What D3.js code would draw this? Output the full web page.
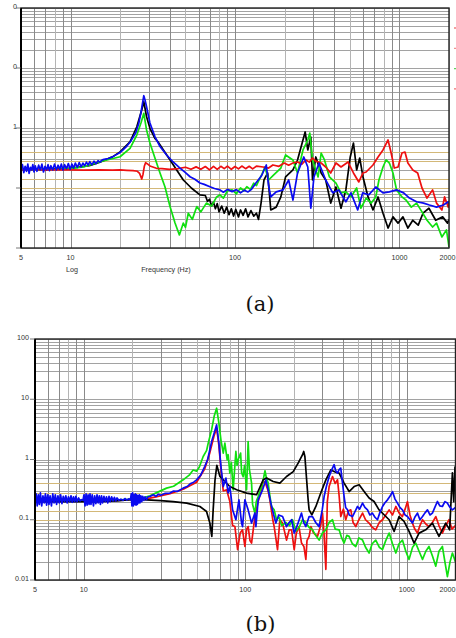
<!DOCTYPE html>
<html><head><meta charset="utf-8">
<script src="https://cdn.jsdelivr.net/npm/d3@7/dist/d3.min.js"></script>
<style>body{margin:0;background:#fff}svg{display:block}</style>
</head><body><svg id="c" width="456" height="638"></svg>
<script>
// ---------- tick labels / reference levels ----------
const xTickValues = [5, 10, 100, 1000, 2000];
const xTickLabels = ["5", "10", "100", "1000", "2000"];
const yTickValues = [100, 10, 1, 0.1, 0.01];
const yTickLabelsA = ["0", "0", "1", "", ""];        // labels cut off in the source image
const yTickLabelsB = ["100", "10", "1", "0.1", "0.01"];
const toleranceLevels = [0.4, 0.283, 0.141, 0.1];    // +-3 dB / +-6 dB around 0.2
const axisTextA = ["Log", "Frequency (Hz)"];
const captions = ["(a)", "(b)"];

// ---------- panel (a) series: [frequency Hz, magnitude] ----------
const blueA = [[5,0.21],[5.1,0.245],[5.2,0.18],[5.3,0.23],[5.4,0.19],[5.5,0.25],[5.6,0.175],[5.7,0.22],[5.8,0.2],[5.9,0.245],[6,0.185],[6.1,0.235],[6.25,0.19],[6.4,0.24],[6.55,0.2],[6.7,0.25],[6.85,0.185],[7,0.23],[7.15,0.2],[7.3,0.245],[7.45,0.195],[7.6,0.235],[7.8,0.2],[8,0.25],[8.2,0.2],[8.4,0.24],[8.6,0.205],[8.8,0.25],[9,0.2],[9.2,0.245],[9.45,0.21],[9.7,0.255],[9.95,0.205],[10.2,0.25],[10.45,0.215],[10.7,0.26],[11,0.22],[11.3,0.265],[11.6,0.225],[11.9,0.26],[12.2,0.235],[12.5,0.27],[12.8,0.24],[13.1,0.275],[13.5,0.245],[13.9,0.28],[14.3,0.255],[14.7,0.285],[15.1,0.27],[15.6,0.295],[16,0.3],[17,0.31],[18,0.33],[19,0.36],[20,0.39],[21,0.44],[22,0.5],[23,0.58],[24,0.7],[25,0.85],[26,1.2],[26.8,1.8],[27.4,2.6],[27.9,3.45],[28.4,2.9],[29,2.26],[30.4,1.21],[32.6,0.72],[35,0.49],[38.4,0.355],[41.9,0.274],[46.3,0.215],[50,0.18],[53.3,0.154],[57,0.14],[61.2,0.121],[65,0.115],[70.4,0.105],[75,0.098],[81,0.093],[85,0.085],[90,0.095],[96,0.087],[102,0.094],[108,0.083],[114,0.092],[120,0.086],[126,0.095],[134,0.121],[145,0.16],[155,0.242],[160,0.11],[165,0.071],[178,0.086],[196,0.093],[212,0.136],[225,0.063],[240,0.178],[262,0.329],[277,0.224],[289,0.046],[302,0.153],[324,0.261],[356,0.136],[393,0.083],[427,0.093],[472,0.059],[507,0.083],[557,0.043],[598,0.083],[650,0.077],[718,0.104],[794,0.083],[868,0.086],[960,0.093],[1060,0.083],[1150,0.068],[1270,0.059],[1400,0.056],[1520,0.052],[1680,0.048],[1850,0.052],[1980,0.059],[2000,0.055]];

const blackA = [[5,0.205],[7,0.205],[10,0.215],[13,0.235],[15.1,0.27],[18,0.33],[20,0.4],[23,0.59],[25.3,1.05],[27.1,2.0],[27.9,2.74],[29,1.54],[30.4,0.99],[32.6,0.67],[34,0.59],[36.7,0.43],[40.3,0.293],[44.2,0.2],[48.5,0.136],[54.5,0.099],[61.2,0.077],[66,0.075],[68,0.06],[70,0.065],[72,0.05],[74,0.058],[76,0.045],[78,0.055],[80,0.04],[83,0.05],[86,0.038],[89,0.048],[92,0.036],[95,0.045],[98,0.034],[101,0.044],[105,0.033],[108,0.043],[112,0.035],[116,0.045],[120,0.033],[125,0.042],[130,0.034],[135,0.038],[139,0.03],[144,0.056],[150,0.136],[158,0.178],[165,0.043],[178,0.048],[190,0.071],[203,0.153],[225,0.2],[240,0.293],[256,0.562],[267,0.858],[277,0.43],[289,0.708],[296,0.136],[310,0.329],[334,0.178],[356,0.136],[382,0.056],[411,0.104],[441,0.046],[472,0.093],[502,0.329],[525,0.562],[549,0.2],[573,0.316],[600,0.153],[644,0.071],[690,0.043],[741,0.071],[794,0.038],[852,0.0215],[913,0.033],[980,0.026],[1050,0.033],[1125,0.0215],[1205,0.029],[1300,0.024],[1390,0.038],[1510,0.046],[1660,0.029],[1830,0.033],[1960,0.026],[2000,0.03]];

const greenA = [[5,0.2],[8,0.205],[10,0.21],[12,0.225],[15.1,0.274],[20,0.332],[23,0.459],[25.3,0.764],[26.8,1.21],[27.9,1.76],[29,0.926],[30.4,0.562],[32.6,0.316],[35,0.178],[37.5,0.105],[40.3,0.0488],[43.2,0.0261],[45.9,0.0165],[48.5,0.026],[50,0.022],[52,0.038],[55,0.03],[58.6,0.049],[62,0.04],[67,0.056],[72,0.05],[77,0.07],[81,0.077],[85,0.068],[90,0.09],[96,0.093],[102,0.08],[108,0.1],[113,0.09],[118,0.105],[124,0.095],[130,0.12],[135,0.11],[140,0.136],[146,0.17],[152,0.224],[160,0.136],[172,0.165],[190,0.215],[203,0.355],[225,0.293],[240,0.178],[259,0.43],[277,0.631],[285,0.825],[296,0.293],[320,0.153],[334,0.383],[350,0.293],[375,0.153],[411,0.121],[441,0.083],[472,0.086],[507,0.071],[549,0.1],[583,0.046],[627,0.068],[673,0.056],[718,0.071],[750,0.136],[794,0.224],[829,0.293],[868,0.261],[913,0.178],[960,0.093],[1035,0.071],[1095,0.063],[1180,0.048],[1270,0.056],[1370,0.04],[1470,0.029],[1590,0.0224],[1680,0.026],[1810,0.0153],[1930,0.02],[2000,0.0104]];

const redA = [[5,0.2],[6,0.205],[7,0.198],[8,0.202],[10,0.2],[12,0.198],[15,0.2],[18,0.198],[20,0.2],[22,0.197],[24,0.195],[25.5,0.19],[26.3,0.175],[27.1,0.141],[27.6,0.17],[28.1,0.23],[28.6,0.264],[29.5,0.25],[30.4,0.233],[33.3,0.213],[36,0.21],[40,0.205],[45,0.21],[50,0.222],[54,0.205],[58,0.225],[62,0.205],[66,0.228],[70,0.2],[74,0.23],[78,0.205],[82,0.23],[86,0.21],[90,0.232],[95,0.205],[100,0.228],[105,0.208],[110,0.232],[116,0.21],[122,0.23],[128,0.208],[135,0.232],[148,0.224],[160,0.215],[170,0.242],[185,0.23],[199,0.261],[212,0.24],[225,0.261],[240,0.271],[255,0.25],[270,0.293],[283,0.27],[296,0.316],[310,0.28],[334,0.261],[356,0.224],[382,0.178],[411,0.261],[441,0.224],[487,0.271],[525,0.178],[566,0.126],[600,0.178],[627,0.185],[690,0.242],[741,0.329],[794,0.43],[852,0.631],[890,0.383],[930,0.215],[980,0.224],[1035,0.383],[1080,0.398],[1125,0.261],[1205,0.2],[1290,0.178],[1370,0.1],[1470,0.068],[1590,0.093],[1680,0.056],[1810,0.043],[1880,0.071],[1980,0.048],[2000,0.06]];

// ---------- panel (b) series ----------
const blueB = [[5,0.22],[5.08,0.27],[5.16,0.17],[5.24,0.26],[5.32,0.18],[5.4,0.28],[5.5,0.17],[5.6,0.25],[5.7,0.19],[5.8,0.27],[5.9,0.175],[6,0.26],[6.1,0.18],[6.2,0.25],[6.32,0.17],[6.44,0.27],[6.56,0.19],[6.68,0.26],[6.8,0.18],[6.93,0.25],[7.06,0.19],[7.2,0.26],[7.34,0.185],[7.48,0.245],[7.62,0.2],[7.76,0.25],[7.9,0.19],[8.05,0.24],[8.2,0.2],[8.35,0.25],[8.5,0.195],[8.65,0.24],[8.8,0.2],[8.95,0.245],[9.1,0.2],[9.3,0.23],[9.5,0.205],[9.7,0.215],[9.9,0.21],[10.05,0.26],[10.2,0.17],[10.35,0.27],[10.5,0.175],[10.65,0.26],[10.8,0.18],[10.95,0.27],[11.1,0.18],[11.3,0.26],[11.5,0.17],[11.7,0.25],[11.9,0.185],[12.1,0.26],[12.3,0.19],[12.5,0.25],[12.7,0.18],[12.9,0.25],[13.1,0.19],[13.35,0.245],[13.6,0.2],[13.85,0.24],[14.1,0.19],[14.35,0.245],[14.6,0.2],[14.9,0.24],[15.2,0.205],[15.5,0.235],[15.8,0.205],[16.1,0.23],[16.5,0.21],[17,0.22],[17.5,0.21],[18,0.225],[18.5,0.212],[19,0.222],[19.5,0.215],[19.7,0.27],[19.9,0.17],[20.1,0.28],[20.3,0.17],[20.5,0.26],[20.7,0.18],[20.9,0.27],[21.1,0.175],[21.3,0.26],[21.5,0.18],[21.7,0.25],[21.9,0.19],[22.1,0.26],[22.3,0.19],[22.6,0.25],[22.9,0.2],[23.2,0.245],[23.6,0.21],[24,0.24],[24.5,0.215],[25,0.24],[25.7,0.243],[27,0.26],[28,0.245],[29,0.265],[30,0.255],[32,0.275],[34.2,0.277],[36,0.3],[38,0.295],[41.3,0.335],[44,0.36],[46,0.4],[48,0.42],[50,0.46],[53,0.55],[56.2,0.77],[58.5,1.0],[60.4,1.45],[62,2.0],[64.2,2.74],[66.5,3.77],[68.7,1.87],[70.7,0.77],[73.1,0.356],[75.9,0.49],[78.4,0.28],[80.3,0.36],[83.5,0.146],[87.5,0.1],[91.4,0.214],[94.9,0.088],[96.2,0.077],[99.5,0.214],[104.2,0.146],[109.4,0.088],[114.7,0.129],[116.4,0.077],[120.2,0.214],[128,0.314],[134.2,0.46],[138.7,0.314],[144,0.189],[150,0.12],[154.7,0.088],[161,0.12],[170.2,0.113],[180,0.077],[187,0.09],[193.5,0.1],[200.9,0.06],[207.6,0.075],[215.7,0.1],[222.9,0.129],[230,0.09],[237.2,0.077],[248.5,0.113],[260.7,0.113],[273,0.09],[286.5,0.077],[300,0.15],[307.6,0.243],[318,0.36],[330.4,0.522],[345,0.7],[354.8,0.82],[363,0.65],[372.4,0.594],[381,0.68],[390,0.72],[400,0.4],[409,0.243],[418,0.16],[429.3,0.146],[440,0.12],[461,0.113],[480,0.14],[495,0.166],[510,0.15],[532,0.189],[550,0.16],[571,0.146],[590,0.12],[612,0.129],[635,0.11],[658,0.1],[680,0.13],[707,0.166],[730,0.19],[759,0.214],[790,0.25],[815,0.294],[845,0.22],[875,0.189],[905,0.16],[939,0.146],[975,0.12],[1009,0.113],[1045,0.1],[1083,0.088],[1120,0.11],[1163,0.129],[1205,0.1],[1250,0.113],[1295,0.13],[1342,0.146],[1390,0.12],[1439,0.129],[1490,0.16],[1545,0.201],[1600,0.17],[1659,0.166],[1720,0.2],[1782,0.189],[1850,0.16],[1914,0.146],[2000,0.16]];

const greenB = [[5,0.21],[7,0.205],[10,0.21],[14,0.21],[18,0.215],[22,0.22],[25.7,0.25],[29,0.29],[32.6,0.335],[36,0.36],[41.3,0.46],[45,0.55],[47.6,0.67],[50,0.64],[52,0.75],[54.9,1.12],[57.6,1.4],[59,1.87],[61.9,3.1],[64.2,5.2],[66.5,7.1],[68.7,4.0],[70.7,2.12],[73.1,1.28],[74.8,1.87],[77.3,0.99],[78.4,1.2],[80.3,0.594],[82,0.9],[84.2,0.314],[87.5,1.36],[89,0.8],[90.4,0.99],[93.6,1.28],[95,0.6],[97.1,0.52],[99,0.8],[101.9,0.314],[104.2,1.99],[106,0.7],[109.4,0.406],[111,0.18],[114.7,0.129],[117,0.2],[120.2,0.243],[126.2,0.356],[129,0.45],[132.5,0.65],[135,0.5],[138.7,0.406],[142,0.25],[145.4,0.166],[151,0.146],[156.2,0.1],[162,0.11],[168,0.08],[178,0.09],[188,0.08],[196,0.1],[206,0.065],[215.7,0.075],[226,0.1],[237,0.09],[248,0.075],[260.7,0.068],[273,0.055],[286.5,0.046],[300,0.06],[315,0.068],[330,0.09],[346.7,0.1],[360,0.07],[381,0.068],[395,0.05],[409,0.041],[425,0.055],[439,0.053],[460,0.04],[483,0.036],[505,0.05],[532,0.046],[555,0.035],[584,0.028],[610,0.04],[642,0.046],[675,0.035],[707,0.032],[740,0.045],[777,0.06],[815,0.04],[855,0.028],[895,0.04],[939,0.046],[985,0.03],[1032,0.022],[1085,0.035],[1135,0.041],[1190,0.03],[1250,0.022],[1310,0.03],[1371,0.036],[1440,0.025],[1510,0.017],[1580,0.03],[1659,0.036],[1720,0.02],[1782,0.0114],[1850,0.02],[1914,0.028],[2000,0.02]];

const blackB = [[5,0.2],[8,0.2],[12,0.2],[16,0.205],[20.9,0.22],[24.5,0.214],[30,0.207],[35.8,0.2],[43.4,0.189],[52.4,0.166],[57.6,0.137],[60.4,0.088],[62.1,0.053],[63.3,0.146],[65,0.46],[66.7,0.8],[69.7,0.522],[73.1,0.46],[80.3,0.356],[88.4,0.314],[101.9,0.277],[117.5,0.26],[129.1,0.46],[135.5,0.491],[148.9,0.431],[163.7,0.406],[180.1,0.522],[198.1,0.63],[212.5,0.87],[226.3,1.2],[230,1.36],[233.9,1.12],[245,0.214],[248.5,0.146],[258.3,0.121],[273.5,0.166],[293.6,0.28],[315.4,0.46],[338.6,0.67],[360,0.62],[381,0.594],[409,0.406],[439.3,0.294],[471.8,0.356],[506.7,0.38],[544,0.294],[584,0.229],[627,0.201],[673,0.146],[723,0.121],[777,0.1],[834,0.064],[895,0.113],[961,0.094],[1032,0.064],[1109,0.041],[1190,0.06],[1309,0.068],[1439,0.088],[1581,0.053],[1740,0.088],[1840,0.068],[1914,0.6],[1950,0.2],[1985,0.75],[2000,0.3]];

const redB = [[5,0.21],[8,0.21],[12,0.21],[16,0.21],[20,0.215],[24,0.22],[28,0.24],[34.2,0.27],[41.3,0.32],[50,0.42],[56.2,0.7],[60.4,1.3],[64.2,2.5],[66.5,3.3],[68.7,1.7],[70.7,0.7],[73.1,0.3],[76.7,0.314],[80.3,0.2],[83.5,0.08],[86.3,0.077],[89.7,0.032],[93,0.06],[96.2,0.068],[99.5,0.036],[102,0.07],[104.2,0.077],[107,0.045],[109.4,0.041],[114.7,0.113],[120.2,0.2],[126.2,0.314],[128,0.406],[132.2,0.431],[138.7,0.3],[142,0.214],[148,0.1],[151,0.077],[158.4,0.032],[163.7,0.1],[170.2,0.088],[180.1,0.046],[187,0.068],[193.5,0.068],[200.9,0.032],[207,0.06],[215,0.077],[222.9,0.041],[230.6,0.036],[237.2,0.022],[241,0.045],[248.5,0.053],[254.7,0.077],[265,0.06],[280,0.053],[293,0.08],[300.6,0.129],[307,0.06],[315.4,0.015],[322,0.2],[330.4,0.356],[346.7,0.522],[360,0.4],[372.4,0.46],[381,0.25],[390,0.113],[405,0.15],[418.7,0.1],[435,0.14],[449.8,0.146],[465,0.09],[483,0.077],[505,0.1],[532,0.129],[555,0.1],[584,0.088],[610,0.075],[642,0.068],[675,0.09],[707,0.1],[740,0.12],[777,0.146],[815,0.12],[855,0.166],[895,0.13],[939,0.113],[975,0.15],[1009,0.2],[1045,0.12],[1083,0.088],[1120,0.07],[1163,0.06],[1205,0.08],[1250,0.1],[1310,0.085],[1371,0.077],[1440,0.09],[1510,0.113],[1580,0.08],[1659,0.06],[1740,0.08],[1824,0.1],[1900,0.07],[2000,0.08]];

const legendRemnantColors = ["#e84040", "#f09090", "#60d060", "#f07070"];

// ---------- drawing ----------
const svg = d3.select("#c");
const gridF = [];
[1, 10, 100, 1000].forEach(d => { for (let k = 1; k <= 9; k++) { const v = k * d; if (v >= 5 && v <= 2000) gridF.push(v); } });
const gridV = [];
[0.01, 0.1, 1, 10].forEach(d => { for (let k = 1; k <= 9; k++) gridV.push(+(k * d).toPrecision(3)); });
gridV.push(100);

const colors = { blue: "#0a0af0", black: "#000000", green: "#10e010", red: "#ee1010" };
const FONT = "Liberation Sans, Arial, sans-serif";

function panel(id, box, series, yLabels, opts) {
  const x = d3.scaleLog().domain([5, 2000]).range([box.x0, box.x1]);
  const y = d3.scaleLog().domain([0.01, 100]).range([box.y1, box.y0]);
  const g = svg.append("g");
  g.append("clipPath").attr("id", "clip" + id).append("rect")
    .attr("x", box.x0).attr("y", box.y0).attr("width", box.x1 - box.x0).attr("height", box.y1 - box.y0);
  // grid
  g.append("g").selectAll("line").data(gridV).join("line")
    .attr("x1", box.x0).attr("x2", box.x1)
    .attr("y1", d => Math.round(y(d)) + 0.5).attr("y2", d => Math.round(y(d)) + 0.5)
    .attr("stroke", "#8a8a8a").attr("stroke-width", 0.8);
  g.append("g").selectAll("line").data(gridF).join("line")
    .attr("x1", d => Math.round(x(d)) + 0.5).attr("x2", d => Math.round(x(d)) + 0.5)
    .attr("y1", box.y0).attr("y2", box.y1)
    .attr("stroke", (d, i) => (i % 3 === 0 ? "#b4b4b4" : "#8a8a8a")).attr("stroke-width", 1);
  // tolerance lines
  g.append("g").selectAll("line").data(toleranceLevels).join("line")
    .attr("x1", box.x0).attr("x2", box.x1)
    .attr("y1", d => Math.round(y(d)) + 0.5).attr("y2", d => Math.round(y(d)) + 0.5)
    .attr("stroke", "#d3b878").attr("stroke-width", 1);
  // curves
  const line = d3.line().x(d => x(d[0])).y(d => y(d[1]));
  const cg = g.append("g").attr("clip-path", `url(#clip${id})`);
  series.forEach(s => {
    cg.append("path").datum(s.data).attr("d", line)
      .attr("fill", "none").attr("stroke", colors[s.color])
      .attr("stroke-width", 1.7).attr("stroke-linejoin", "round");
  });
  // frame
  g.append("rect").attr("x", box.x0).attr("y", box.y0)
    .attr("width", box.x1 - box.x0).attr("height", box.y1 - box.y0)
    .attr("fill", "none").attr("stroke", "#222").attr("stroke-width", 1.4);
  g.append("line").attr("x1", box.x0).attr("x2", box.x0).attr("y1", box.y0).attr("y2", box.y1)
    .attr("stroke", "#000").attr("stroke-width", 2);
  // y ticks and labels
  g.append("g").selectAll("line").data(yTickValues).join("line")
    .attr("x1", box.x0 - 5).attr("x2", box.x0)
    .attr("y1", d => y(d)).attr("y2", d => y(d))
    .attr("stroke", "#555").attr("stroke-width", 0.8);
  g.append("g").selectAll("text").data(yTickValues).join("text")
    .attr("x", opts.yLabelX).attr("y", d => y(d) + 0.5)
    .attr("text-anchor", "end")
    .attr("font-family", FONT).attr("font-size", 7.2)
    .attr("fill", "#333")
    .text((d, i) => yLabels[i]);
  // x labels (last one kept inside the picture)
  g.append("g").selectAll("text").data(xTickValues).join("text")
    .attr("x", d => Math.min(x(d), 456 - 8.5)).attr("y", box.y1 + opts.xLabelDy)
    .attr("text-anchor", "middle")
    .attr("font-family", FONT).attr("font-size", 7.2)
    .attr("fill", "#333")
    .text((d, i) => xTickLabels[i]);
  return { x, y };
}

panel("A", { x0: 21, x1: 449, y0: 8, y1: 248 },
  [{ data: blackA, color: "black" }, { data: greenA, color: "green" },
   { data: redA, color: "red" }, { data: blueA, color: "blue" }],
  yTickLabelsA, { yLabelX: 17, xLabelDy: 11.5 });

panel("B", { x0: 35, x1: 455.5, y0: 339, y1: 580 },
  [{ data: redB, color: "red" }, { data: greenB, color: "green" },
   { data: blackB, color: "black" }, { data: blueB, color: "blue" }],
  yTickLabelsB, { yLabelX: 29, xLabelDy: 12 });

// axis captions under panel (a)
svg.append("text").attr("x", 72).attr("y", 272).attr("text-anchor", "middle")
  .attr("font-family", FONT).attr("font-size", 7.2).attr("fill", "#333")
  .text(axisTextA[0]);
svg.append("text").attr("x", 166).attr("y", 272).attr("text-anchor", "middle")
  .attr("font-family", FONT).attr("font-size", 7.2).attr("fill", "#333")
  .text(axisTextA[1]);

// legend remnants at right edge of (a)
svg.append("g").selectAll("line").data(legendRemnantColors).join("line")
  .attr("x1", 454).attr("x2", 456)
  .attr("y1", (d, i) => 28 + i * 20.3).attr("y2", (d, i) => 28 + i * 20.3)
  .attr("stroke", d => d).attr("stroke-width", 1.2);

// panel captions
svg.append("text").attr("x", 260).attr("y", 311).attr("text-anchor", "middle")
  .attr("font-family", "DejaVu Serif, serif").attr("font-size", 21).attr("fill", "#111")
  .text(captions[0]);
svg.append("text").attr("x", 260.5).attr("y", 631).attr("text-anchor", "middle")
  .attr("font-family", "DejaVu Serif, serif").attr("font-size", 21).attr("fill", "#111")
  .text(captions[1]);
</script></body></html>
